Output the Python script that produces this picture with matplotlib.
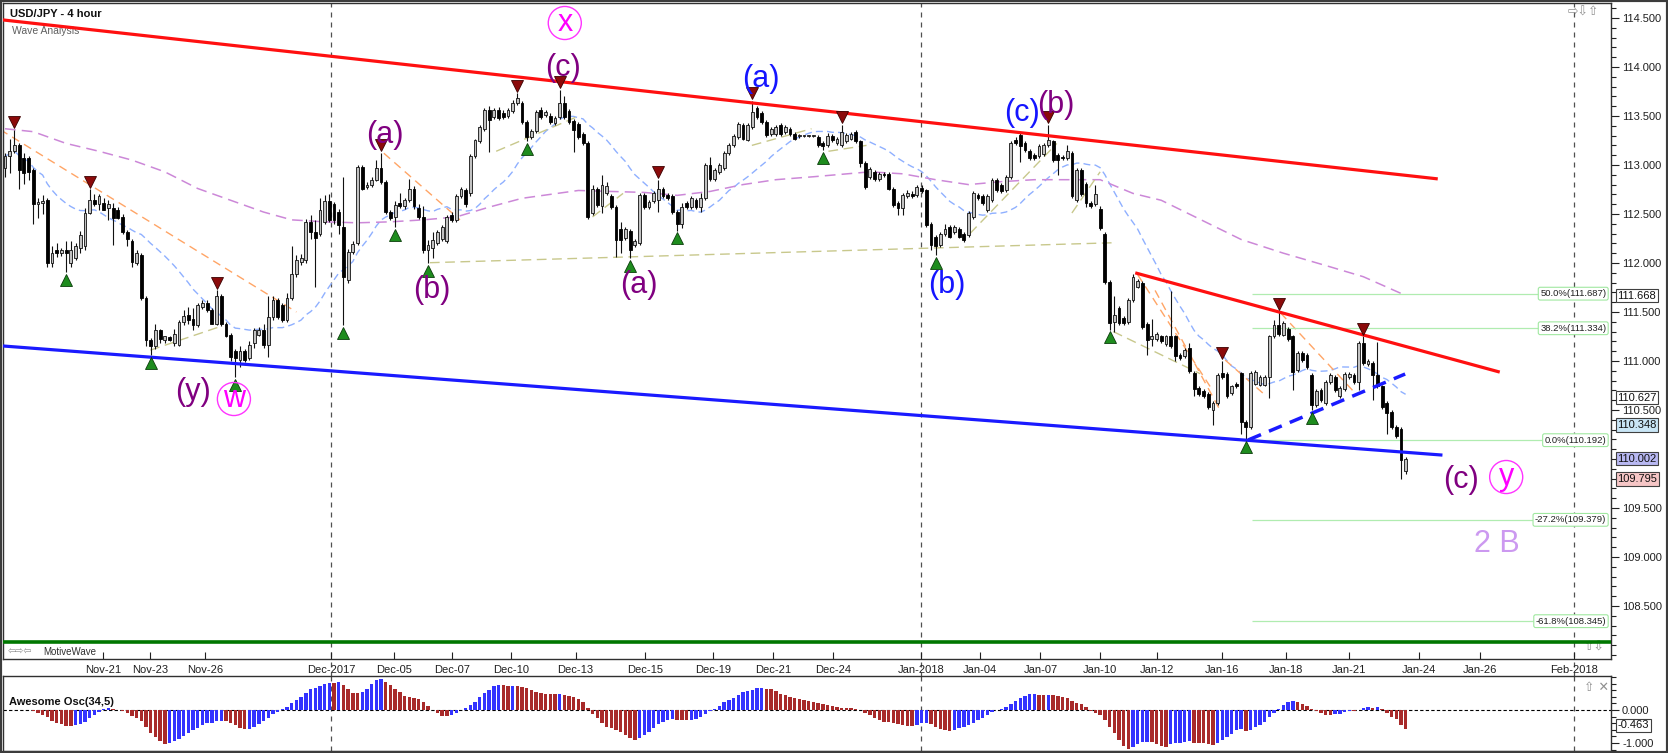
# -*- coding: utf-8 -*-
"""
USD/JPY 4 hour wave analysis chart with Awesome Oscillator panel
"""

import numpy as np
import pandas as pd
import matplotlib
matplotlib.use("Agg")
import matplotlib.pyplot as plt
from matplotlib import transforms
from matplotlib.ticker import MultipleLocator, FormatStrFormatter, FuncFormatter


#################### Data (4 hour candles)

opens = [
    112.97, 113.09, 113.14, 113.20, 113.07, 113.07, 112.95, 112.60, 112.61, 112.64,
    112.00, 112.13, 112.10, 112.13, 112.00, 112.05, 112.15, 112.17, 112.51, 112.64,
    112.60, 112.61, 112.56, 112.56, 112.54, 112.47, 112.32, 112.22, 112.00, 112.08,
    111.64, 111.21, 111.15, 111.32, 111.21, 111.24, 111.18, 111.16, 111.40, 111.47,
    111.43, 111.37, 111.55, 111.59, 111.52, 111.38, 111.66, 111.38, 111.27, 111.10,
    111.01, 111.10, 111.03, 111.18, 111.27, 111.32, 111.16, 111.45, 111.62, 111.57,
    111.42, 111.64, 111.89, 112.01, 112.03, 112.42, 112.32, 112.30, 112.42, 112.63,
    112.60, 112.52, 112.37, 111.83, 112.11, 112.20, 112.98, 112.78, 112.80, 112.85,
    112.97, 112.83, 112.52, 112.47, 112.61, 112.58, 112.64, 112.76, 112.56, 112.47,
    112.13, 112.15, 112.20, 112.24, 112.22, 112.49, 112.44, 112.68, 112.74, 112.71,
    113.09, 113.24, 113.37, 113.56, 113.49, 113.56, 113.53, 113.50, 113.55, 113.63,
    113.63, 113.44, 113.29, 113.35, 113.56, 113.51, 113.50, 113.43, 113.49, 113.63,
    113.55, 113.45, 113.42, 113.32, 113.22, 112.51, 112.76, 112.58, 112.71, 112.68,
    112.57, 112.35, 112.25, 112.33, 112.18, 112.20, 112.69, 112.57, 112.63, 112.64,
    112.76, 112.69, 112.68, 112.52, 112.40, 112.61, 112.57, 112.64, 112.57, 112.66,
    113.00, 112.86, 112.93, 112.97, 113.12, 113.20, 113.29, 113.41, 113.26, 113.39,
    113.58, 113.53, 113.44, 113.32, 113.32, 113.41, 113.34, 113.37, 113.32, 113.30,
    113.30, 113.30, 113.30, 113.29, 113.22, 113.20, 113.30, 113.22, 113.20, 113.24,
    113.27, 113.34, 113.24, 113.02, 112.88, 112.93, 112.86, 112.91, 112.91, 112.76,
    112.61, 112.56, 112.68, 112.70, 112.69, 112.77, 112.74, 112.40, 112.27, 112.18,
    112.30, 112.37, 112.32, 112.35, 112.30, 112.29, 112.47, 112.69, 112.68, 112.54,
    112.64, 112.85, 112.80, 112.74, 112.88, 113.26, 113.31, 113.22, 113.14, 113.10,
    113.09, 113.11, 113.20, 113.24, 113.10, 113.08, 113.07, 113.12, 112.64, 112.95,
    112.81, 112.61, 112.60, 112.55, 112.30, 111.81, 111.40, 111.54, 111.44, 111.40,
    111.62, 111.76, 111.80, 111.38, 111.22, 111.22, 111.25, 111.17, 111.25, 111.25,
    111.06, 111.05, 111.13, 110.88, 110.72, 110.69, 110.66, 110.50, 110.57, 110.88,
    110.87, 110.67, 110.77, 110.88, 110.38, 110.33, 110.77, 110.76, 110.76, 110.84,
    111.25, 111.37, 111.27, 111.33, 111.25, 110.91, 111.08, 111.06, 110.86, 110.55,
    110.70, 110.57, 110.79, 110.84, 110.64, 110.71, 110.84, 110.86, 110.79, 111.18,
    110.97, 110.98, 110.86, 110.74, 110.57, 110.48, 110.33, 110.31, 109.88]

highs = [
    113.12, 113.27, 113.36, 113.22, 113.12, 113.09, 112.97, 112.66, 112.69, 112.66,
    112.17, 112.20, 112.15, 112.22, 112.22, 112.20, 112.33, 112.56, 112.75, 112.70,
    112.70, 112.66, 112.64, 112.61, 112.57, 112.50, 112.34, 112.24, 112.13, 112.10,
    111.66, 111.23, 111.38, 111.33, 111.25, 111.26, 111.33, 111.42, 111.52, 111.55,
    111.54, 111.59, 111.62, 111.62, 111.54, 111.72, 111.68, 111.40, 111.29, 111.12,
    111.15, 111.12, 111.20, 111.34, 111.35, 111.38, 111.66, 111.66, 111.64, 111.59,
    111.69, 112.17, 112.08, 112.09, 112.45, 112.49, 112.44, 112.66, 112.69, 112.70,
    112.62, 112.55, 112.88, 112.14, 112.22, 113.00, 113.00, 112.83, 112.88, 113.05,
    113.12, 112.85, 112.54, 112.63, 112.71, 112.66, 112.86, 112.79, 112.60, 112.58,
    112.23, 112.32, 112.34, 112.39, 112.49, 112.52, 112.70, 112.78, 112.77, 113.11,
    113.27, 113.41, 113.58, 113.60, 113.58, 113.59, 113.56, 113.58, 113.66, 113.73,
    113.65, 113.46, 113.37, 113.56, 113.59, 113.56, 113.53, 113.50, 113.77, 113.70,
    113.57, 113.47, 113.44, 113.34, 113.24, 112.80, 112.78, 112.90, 112.83, 112.70,
    112.59, 112.42, 112.37, 112.35, 112.24, 112.71, 112.71, 112.64, 112.73, 112.85,
    112.78, 112.71, 112.70, 112.54, 112.61, 112.63, 112.68, 112.66, 112.71, 113.02,
    113.08, 112.97, 113.02, 113.14, 113.22, 113.32, 113.44, 113.43, 113.43, 113.65,
    113.60, 113.55, 113.46, 113.39, 113.41, 113.43, 113.41, 113.39, 113.34, 113.32,
    113.31, 113.31, 113.31, 113.31, 113.24, 113.33, 113.32, 113.29, 113.41, 113.33,
    113.34, 113.36, 113.26, 113.04, 112.98, 112.95, 112.93, 112.93, 112.93, 112.78,
    112.63, 112.71, 112.74, 112.73, 112.80, 112.80, 112.76, 112.42, 112.29, 112.32,
    112.40, 112.39, 112.39, 112.37, 112.32, 112.53, 112.73, 112.71, 112.70, 112.70,
    112.87, 112.87, 112.82, 112.90, 113.24, 113.29, 113.33, 113.24, 113.16, 113.12,
    113.21, 113.22, 113.41, 113.26, 113.12, 113.10, 113.20, 113.14, 112.97, 112.97,
    112.83, 112.63, 112.80, 112.58, 112.32, 111.83, 111.66, 111.56, 111.46, 111.64,
    111.89, 111.84, 111.82, 111.40, 111.43, 111.30, 111.27, 111.27, 111.71, 111.27,
    111.08, 111.13, 111.18, 110.90, 110.74, 110.71, 110.68, 110.59, 110.88, 111.00,
    110.89, 110.76, 110.79, 110.89, 110.40, 110.90, 110.91, 110.86, 110.86, 111.27,
    111.42, 111.50, 111.41, 111.35, 111.27, 111.10, 111.10, 111.08, 110.88, 110.71,
    110.72, 110.81, 110.88, 110.86, 110.74, 110.89, 110.89, 110.88, 111.20, 111.25,
    111.02, 111.00, 111.19, 110.76, 110.59, 110.50, 110.35, 110.33, 110.02]

lows = [
    112.88, 112.92, 113.12, 112.75, 112.81, 112.85, 112.40, 112.46, 112.50, 111.96,
    111.96, 112.06, 112.07, 111.91, 111.96, 112.03, 112.10, 112.13, 112.50, 112.58,
    112.54, 112.54, 112.44, 112.18, 112.45, 112.30, 112.17, 111.96, 111.98, 111.62,
    111.15, 111.06, 111.12, 111.18, 111.18, 111.20, 111.15, 111.15, 111.37, 111.38,
    111.32, 111.35, 111.53, 111.50, 111.38, 111.37, 111.36, 111.24, 111.00, 110.84,
    110.94, 110.99, 111.01, 111.13, 111.25, 111.13, 111.04, 111.42, 111.43, 111.40,
    111.40, 111.62, 111.86, 111.98, 112.00, 112.24, 111.76, 112.28, 112.40, 112.42,
    112.40, 112.30, 111.37, 111.80, 112.09, 112.18, 112.74, 112.75, 112.78, 112.84,
    112.81, 112.50, 112.44, 112.37, 112.56, 112.55, 112.62, 112.55, 112.45, 112.10,
    112.00, 112.05, 112.18, 112.22, 112.20, 112.42, 112.42, 112.66, 112.57, 112.68,
    113.07, 113.22, 113.35, 113.13, 113.47, 113.46, 113.47, 113.48, 113.53, 113.61,
    113.42, 113.24, 113.27, 113.33, 113.47, 113.49, 113.42, 113.41, 113.47, 113.47,
    113.42, 113.13, 113.27, 113.20, 112.45, 112.49, 112.57, 112.51, 112.69, 112.55,
    112.06, 112.10, 112.23, 112.05, 112.16, 112.18, 112.55, 112.55, 112.61, 112.52,
    112.66, 112.64, 112.50, 112.33, 112.36, 112.55, 112.55, 112.55, 112.52, 112.64,
    112.84, 112.84, 112.91, 112.95, 113.10, 113.18, 113.27, 113.25, 113.24, 113.37,
    113.47, 113.42, 113.29, 113.30, 113.30, 113.30, 113.32, 113.30, 113.25, 113.28,
    113.29, 113.29, 113.29, 113.18, 113.15, 113.18, 113.23, 113.20, 113.18, 113.22,
    113.25, 113.22, 112.98, 112.76, 112.86, 112.84, 112.84, 112.88, 112.74, 112.57,
    112.49, 112.49, 112.66, 112.66, 112.67, 112.71, 112.37, 112.13, 112.08, 112.16,
    112.28, 112.25, 112.30, 112.25, 112.21, 112.27, 112.45, 112.64, 112.59, 112.52,
    112.62, 112.72, 112.71, 112.72, 112.86, 113.20, 113.03, 113.13, 113.05, 113.05,
    113.07, 113.09, 113.18, 113.03, 112.90, 113.05, 113.05, 112.66, 112.62, 112.68,
    112.57, 112.56, 112.58, 112.34, 111.79, 111.32, 111.30, 111.37, 111.37, 111.38,
    111.60, 111.74, 111.33, 111.06, 111.15, 111.20, 111.18, 111.15, 111.13, 111.00,
    111.01, 111.03, 110.88, 110.64, 110.64, 110.62, 110.51, 110.35, 110.55, 110.82,
    110.62, 110.65, 110.72, 110.26, 110.20, 110.31, 110.75, 110.74, 110.74, 110.62,
    111.23, 111.26, 111.25, 111.20, 110.70, 110.89, 110.99, 110.92, 110.50, 110.53,
    110.58, 110.55, 110.77, 110.68, 110.62, 110.69, 110.82, 110.77, 110.70, 110.96,
    110.95, 110.60, 110.72, 110.51, 110.26, 110.31, 110.21, 109.80, 109.85]

closes = [
    113.09, 113.14, 113.20, 112.95, 112.92, 112.93, 112.60, 112.62, 112.63, 112.00,
    112.10, 112.10, 112.13, 112.10, 112.13, 112.17, 112.29, 112.51, 112.64, 112.60,
    112.68, 112.54, 112.60, 112.46, 112.46, 112.32, 112.24, 112.01, 112.10, 111.64,
    111.21, 111.15, 111.32, 111.22, 111.25, 111.21, 111.28, 111.40, 111.46, 111.42,
    111.37, 111.57, 111.59, 111.52, 111.38, 111.66, 111.38, 111.25, 111.04, 111.03,
    111.10, 111.01, 111.16, 111.32, 111.32, 111.16, 111.45, 111.62, 111.45, 111.42,
    111.64, 111.89, 112.03, 112.05, 112.42, 112.32, 112.25, 112.54, 112.63, 112.44,
    112.44, 112.39, 111.86, 112.11, 112.19, 112.98, 112.76, 112.80, 112.85, 112.97,
    112.83, 112.52, 112.46, 112.59, 112.58, 112.64, 112.76, 112.58, 112.47, 112.13,
    112.18, 112.23, 112.32, 112.37, 112.47, 112.44, 112.68, 112.76, 112.60, 113.09,
    113.25, 113.39, 113.56, 113.46, 113.56, 113.48, 113.49, 113.56, 113.63, 113.68,
    113.44, 113.29, 113.35, 113.54, 113.49, 113.54, 113.44, 113.48, 113.63, 113.49,
    113.44, 113.36, 113.29, 113.22, 112.47, 112.76, 112.59, 112.80, 112.79, 112.57,
    112.23, 112.23, 112.35, 112.13, 112.22, 112.69, 112.57, 112.62, 112.71, 112.76,
    112.68, 112.66, 112.52, 112.40, 112.57, 112.57, 112.66, 112.57, 112.66, 113.00,
    112.86, 112.95, 113.00, 113.12, 113.20, 113.30, 113.42, 113.27, 113.41, 113.54,
    113.49, 113.44, 113.31, 113.37, 113.39, 113.32, 113.39, 113.32, 113.27, 113.31,
    113.30, 113.30, 113.30, 113.20, 113.19, 113.30, 113.25, 113.27, 113.34, 113.31,
    113.32, 113.24, 113.02, 112.78, 112.96, 112.86, 112.91, 112.90, 112.76, 112.59,
    112.56, 112.69, 112.71, 112.68, 112.78, 112.73, 112.39, 112.18, 112.17, 112.30,
    112.35, 112.27, 112.37, 112.27, 112.23, 112.51, 112.71, 112.66, 112.61, 112.68,
    112.85, 112.74, 112.73, 112.88, 113.22, 113.22, 113.19, 113.15, 113.07, 113.07,
    113.19, 113.20, 113.25, 113.05, 113.05, 113.07, 113.14, 112.68, 112.95, 112.70,
    112.61, 112.58, 112.70, 112.36, 111.81, 111.39, 111.47, 111.39, 111.39, 111.62,
    111.86, 111.82, 111.35, 111.21, 111.25, 111.28, 111.20, 111.25, 111.15, 111.05,
    111.03, 111.11, 110.90, 110.71, 110.66, 110.64, 110.53, 110.57, 110.86, 110.84,
    110.64, 110.74, 110.74, 110.38, 110.33, 110.88, 110.89, 110.84, 110.84, 111.25,
    111.37, 111.28, 111.39, 111.22, 110.89, 111.08, 111.01, 110.94, 110.55, 110.69,
    110.60, 110.79, 110.86, 110.70, 110.72, 110.87, 110.87, 110.79, 111.18, 110.98,
    111.00, 110.86, 110.74, 110.53, 110.47, 110.33, 110.23, 109.99, 110.00]

### Date axis (bar index of each label)
tick_pos = [20.9, 30.9, 42.6, 69.4, 82.7, 95.1, 107.6, 121.4, 136.1, 150.6, 163.5, 176.2,
            194.9, 207.4, 220.3, 233.0, 245.2, 259.0, 272.6, 286.0, 300.9, 313.8, 333.9]
tick_labels = ['Nov-21', 'Nov-23', 'Nov-26', 'Dec-2017', 'Dec-05', 'Dec-07', 'Dec-10',
               'Dec-13', 'Dec-15', 'Dec-19', 'Dec-21', 'Dec-24', 'Jan-2018', 'Jan-04',
               'Jan-07', 'Jan-10', 'Jan-12', 'Jan-16', 'Jan-18', 'Jan-21', 'Jan-24',
               'Jan-26', 'Feb-2018']
month_starts = ['Dec-2017', 'Jan-2018', 'Feb-2018']

### Slow moving average
slow_ma_idx = [0, 6, 13, 20, 27, 34, 41, 48, 55, 61, 68, 75, 82, 89, 96, 103, 110, 122,
               129, 136, 143, 150, 157, 164, 172, 184, 191, 198, 205, 212, 219, 226, 233,
               240, 246, 263, 272, 282, 289, 297]
slow_ma_val = [113.37, 113.34, 113.22, 113.14, 113.05, 112.93, 112.76, 112.64, 112.52,
               112.44, 112.42, 112.41, 112.42, 112.44, 112.47, 112.57, 112.66, 112.74,
               112.73, 112.72, 112.69, 112.73, 112.80, 112.85, 112.88, 112.93, 112.91,
               112.85, 112.80, 112.83, 112.85, 112.85, 112.85, 112.71, 112.64, 112.24,
               112.10, 111.96, 111.86, 111.69]

### Swing markers (bar indexes)
swing_high_idx = [2, 18, 45, 80, 109, 118, 139, 159, 178, 222, 259, 271, 289]
swing_low_idx = [13, 31, 49, 72, 83, 90, 111, 133, 143, 174, 198, 235, 264, 278]

### Trend lines ((x0, x1), (y0, y1))
upper_channel = ((-0.4, 304.5), (114.48, 112.86))
lower_channel = ((-0.4, 305.5), (111.153, 110.041))
short_resist = ((240.8, 317.7), (111.895, 110.891))
short_support = ((264.5, 297.9), (110.194, 110.867))

orange_lines = [((-1, 62), (113.36, 111.50)), ((80.6, 96.8), (113.12, 112.44)),
                ((241, 256.4), (111.88, 110.74)), ((244.7, 258.5), (111.72, 110.50)),
                ((259.6, 268.4), (111.01, 110.64)), ((271.4, 287.3), (111.49, 110.67))]
olive_lines = [((30.9, 45.7), (111.11, 111.35)), ((90.4, 236.2), (112.003, 112.207)),
               ((104.5, 121.6), (113.14, 113.49)), ((125, 131.5), (112.47, 112.71)),
               ((158.9, 171.6), (113.20, 113.37)), ((175.2, 183.3), (113.14, 113.20)),
               ((205.3, 223.8), (112.30, 113.22)), ((227, 233), (112.51, 112.93)),
               ((235.8, 254.3), (111.30, 110.87))]

### Fibonacci levels
fib_levels = [111.687, 111.334, 110.192, 109.379, 108.345]
fib_labels = ['50.0%(111.687)', '38.2%(111.334)', '0.0%(110.192)',
              '-27.2%(109.379)', '-61.8%(108.345)']

### Price flags on the right axis
flag_values = [111.668, 110.627, 110.348, 110.002, 109.795]
flag_colors = ['white', 'white', '#c9e6f6', '#b8b8f2', '#f6c6c6']
ao_flag = -0.463


#################### Plot parameters

plt.rcParams['font.family'] = ['Liberation Sans', 'DejaVu Sans']

W, H = 1668, 753


def px_box(x0, y0, x1, y1):
    return [x0 / W, 1 - y1 / H, (x1 - x0) / W, (y1 - y0) / H]


fig = plt.figure(figsize=(W / 100, H / 100), dpi=100)
ax = fig.add_axes(px_box(3, 3, 1611, 659))
ao_ax = fig.add_axes(px_box(3, 676, 1611, 751))

xlim = (-0.43, 341.7)


#################### Candles

o = np.array(opens)
h = np.array(highs)
l = np.array(lows)
c = np.array(closes)
x = np.arange(len(c))
up = c >= o
body_lo = np.minimum(o, c)
body_h = np.maximum(np.abs(c - o), 0.008)

ax.vlines(x, l, h, color='#111111', lw=0.8, zorder=3)
ax.bar(x[up], body_h[up], bottom=body_lo[up], width=0.6, color='#c2c2c2',
       edgecolor='#111111', linewidth=0.6, zorder=4)
ax.bar(x[~up], body_h[~up], bottom=body_lo[~up], width=0.6, color='black',
       edgecolor='black', linewidth=0.6, zorder=4)

### moving averages
fast_ma = pd.Series(c).rolling(20, min_periods=1).mean()
ax.plot(x, fast_ma, color='#8fb0ff', lw=1, ls=(0, (5, 3)), zorder=2)
ax.plot(slow_ma_idx, slow_ma_val, color='#cc88d8', lw=1.1, ls=(0, (7, 4)), zorder=2)

### wave helper lines
for xs, ys in orange_lines:
    ax.plot(xs, ys, color='#ffa566', lw=1, ls=(0, (6, 4)), zorder=2)
for xs, ys in olive_lines:
    ax.plot(xs, ys, color='#c8c88c', lw=1, ls=(0, (7, 4)), zorder=2)

### channels
ax.plot(*upper_channel, color='#ff1010', lw=2.3, zorder=5)
ax.plot(*lower_channel, color='#1a1aff', lw=2.3, zorder=5)
ax.plot(*short_resist, color='#ff1010', lw=2.3, zorder=5)
ax.plot(*short_support, color='#1a1aff', lw=2.5, ls=(0, (4, 2.5)), zorder=5)

### swing markers
ax.plot(swing_high_idx, h[swing_high_idx] + 0.08, 'v', ms=9, color='#8b0a0a',
        mec='#3a0000', mew=0.6, ls='none', zorder=6)
ax.plot(swing_low_idx, l[swing_low_idx] - 0.08, '^', ms=9, color='#1e8c1e',
        mec='#0b3d0b', mew=0.6, ls='none', zorder=6)

### fibonacci
ax.hlines(fib_levels, 265.3, 336, color='#b0ecb0', lw=0.9, zorder=2)
for lev, lab in zip(fib_levels, fib_labels):
    ax.text(340.7, lev, lab, ha='right', va='center', fontsize=6.8, color='#202020', zorder=7,
            bbox=dict(boxstyle='round,pad=0.2', fc='white', ec='#a0e8a0', lw=0.8))

### green bottom line
ax.axhline(108.13, color='#007700', lw=2.6, zorder=5)
ax.text(0.0249, 0.0107, 'MotiveWave', transform=ax.transAxes, fontsize=7, color='#303030',
        va='center')
ax.text(0.003, 0.0107, '⇦⇨⇦', transform=ax.transAxes, fontsize=7, color='#909090',
        va='center', family='DejaVu Sans')
ax.text(0.983, 0.018, '⇧⇩', transform=ax.transAxes, fontsize=9, color='#909090',
        va='center', family='DejaVu Sans')
ax.text(0.973, 0.986, '⇨⇩⇧', transform=ax.transAxes, fontsize=9, color='#909090',
        va='center', family='DejaVu Sans')


#################### Wave labels

purple = '#800080'
blue = '#1515ff'
magenta = '#ff00ff'
fs = 22

ax.text(80.9, 113.306, '(a)', color=purple, fontsize=fs, ha='center', va='center', zorder=8)
ax.text(118.7, 113.99, '(c)', color=purple, fontsize=fs, ha='center', va='center', zorder=8)
ax.text(90.9, 111.724, '(b)', color=purple, fontsize=fs, ha='center', va='center', zorder=8)
ax.text(134.9, 111.776, '(a)', color=purple, fontsize=fs, ha='center', va='center', zorder=8)
ax.text(40.0, 110.684, '(y)', color=purple, fontsize=fs, ha='center', va='center', zorder=8)
ax.text(160.9, 113.878, '(a)', color=blue, fontsize=fs, ha='center', va='center', zorder=8)
ax.text(200.4, 111.776, '(b)', color=blue, fontsize=fs, ha='center', va='center', zorder=8)
ax.text(216.4, 113.531, '(c)', color=blue, fontsize=fs, ha='center', va='center', zorder=8)
ax.text(223.6, 113.612, '(b)', color=purple, fontsize=fs, ha='center', va='center', zorder=8)
ax.text(309.8, 109.786, '(c)', color=purple, fontsize=fs, ha='center', va='center', zorder=8)
ax.text(317.4, 109.133, '2 B', color='#cc99f0', fontsize=fs, ha='center', va='center', zorder=8)

for xi, yi, t in [(119.1, 114.449, 'x'), (48.7, 110.612, 'w'), (319.4, 109.816, 'y')]:
    ax.text(xi, yi, t, color=magenta, fontsize=fs, ha='center', va='center', zorder=8,
            bbox=dict(boxstyle='circle,pad=0.05', fc='none', ec='#ff33ff', lw=1))

ax.text(0.0045, 0.983, 'USD/JPY - 4 hour', transform=ax.transAxes, fontsize=8,
        fontweight='bold', va='center', color='#101010')
ax.text(0.0056, 0.957, 'Wave Analysis', transform=ax.transAxes, fontsize=7.5,
        va='center', color='#606060')


#################### Axes styling (price panel)


def price_fmt(v, pos):
    # the 110.000 label sits under the last-price flag, so it is left blank
    if abs(v - 110.0) < 1e-6:
        return ''
    return f'{v:.3f}'


ax.set_xlim(xlim)
ax.set_ylim(107.959, 114.653)
ax.yaxis.tick_right()
ax.set_yticks(np.arange(108.5, 114.51, 0.5))
ax.yaxis.set_major_formatter(FuncFormatter(price_fmt))
ax.yaxis.set_minor_locator(MultipleLocator(0.1))
ax.tick_params(axis='y', which='major', direction='out', length=6, width=0.8,
               labelsize=8, pad=2, colors='#202020')
ax.tick_params(axis='y', which='minor', direction='out', length=3.5, width=0.8,
               colors='#202020')
ax.set_xticks(tick_pos)
ax.set_xticklabels(tick_labels)
ax.tick_params(axis='x', direction='in', length=5, width=0.8, labelsize=8, pad=4,
               colors='#202020')
for s in ax.spines.values():
    s.set_color('#303030')
    s.set_linewidth(1)

for name in month_starts:
    xv = tick_pos[tick_labels.index(name)]
    ax.axvline(xv, color='#505050', lw=0.9, ls=(0, (4, 4)), ymin=-0.027, clip_on=False,
               zorder=1)
    ao_ax.axvline(xv, color='#505050', lw=0.9, ls=(0, (4, 4)), zorder=1)

trans = transforms.blended_transform_factory(ax.transAxes, ax.transData)
for val, col in zip(flag_values, flag_colors):
    ax.text(1.004, val, f'{val:.3f}', transform=trans, fontsize=8, ha='left', va='center',
            color='#101010', zorder=9,
            bbox=dict(boxstyle='square,pad=0.15', fc=col, ec='#404040', lw=0.8))


#################### Awesome oscillator

med = pd.Series((h + l) / 2)
ao = med.rolling(5, min_periods=1).mean() - med.rolling(34, min_periods=1).mean()
rising = ao.diff().fillna(0) >= 0
ao_colors = np.where(rising, '#3333ff', '#a82a2a')
ao_ax.bar(x, ao, width=0.72, color=ao_colors, linewidth=0, zorder=3)
ao_ax.axhline(0, color='black', lw=0.8, ls=(0, (3, 2)), zorder=2)

ao_ax.set_xlim(xlim)
ao_ax.set_ylim(-1.242, 1.03)
ao_ax.yaxis.tick_right()
ao_ax.set_yticks([0, -1])
ao_ax.yaxis.set_major_formatter(FormatStrFormatter('%.3f'))
ao_ax.yaxis.set_minor_locator(MultipleLocator(0.2))
ao_ax.tick_params(axis='y', which='major', direction='out', length=6, width=0.8,
                  labelsize=8, pad=2, colors='#202020')
ao_ax.tick_params(axis='y', which='minor', direction='out', length=3.5, width=0.8,
                  colors='#202020')
ao_ax.tick_params(axis='x', bottom=False, labelbottom=False)
for s in ao_ax.spines.values():
    s.set_color('#303030')
    s.set_linewidth(1)

ao_ax.text(0.004, 0.653, 'Awesome Osc(34,5)', transform=ao_ax.transAxes, fontsize=8,
           fontweight='bold', va='center', color='#101010')
ao_ax.text(0.983, 0.853, '⇧ ✕', transform=ao_ax.transAxes, fontsize=9, color='#909090',
           va='center', family='DejaVu Sans')
trans2 = transforms.blended_transform_factory(ao_ax.transAxes, ao_ax.transData)
ao_ax.text(1.004, ao_flag, f'{ao_flag:.3f}', transform=trans2, fontsize=8, ha='left',
           va='center', color='#101010', zorder=9,
           bbox=dict(boxstyle='square,pad=0.15', fc='white', ec='#404040', lw=0.8))

### outer frame
fig.patches.append(plt.Rectangle((0, 0), 1, 1, transform=fig.transFigure, fill=False,
                                 ec='#3c3c3c', lw=3))

plt.savefig('out.png', dpi=100)
